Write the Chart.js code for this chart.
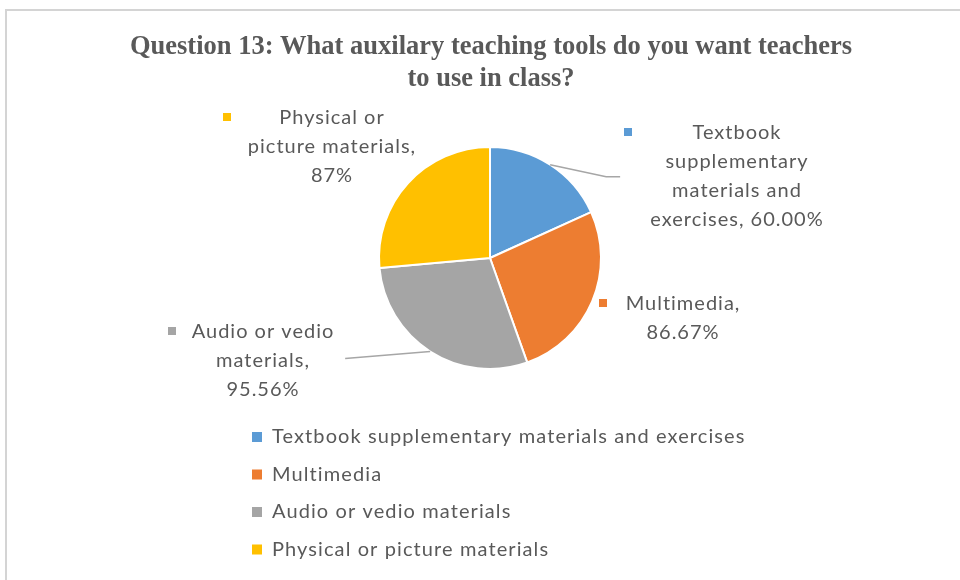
<!DOCTYPE html>
<html>
<head>
<meta charset="utf-8">
<style>
  html, body { margin: 0; padding: 0; background: #ffffff; }
  #wrap { width: 960px; height: 580px; position: relative; }
</style>
<script src="https://cdn.jsdelivr.net/npm/chart.js@4.4.1/dist/chart.umd.min.js"></script>
</head>
<body>
<div id="wrap"><canvas id="chart" width="960" height="580"></canvas></div>
<script>
// Survey answers for question 13 (share of respondents, %)
const categories = [
  'Textbook supplementary materials and exercises',
  'Multimedia',
  'Audio or vedio materials',
  'Physical or picture materials'
];
const values = [60.00, 86.67, 95.56, 87];
const valueLabels = ['60.00%', '86.67%', '95.56%', '87%'];
// Wrapped text of each data label (the value is appended on the last line)
const labelLines = [
  ['Textbook', 'supplementary', 'materials and', 'exercises, '],
  ['Multimedia,', ''],
  ['Audio or vedio', 'materials,', ''],
  ['Physical or', 'picture materials,', '']
];
const titleLines = ['Question 13: What auxilary teaching tools do you want teachers', 'to use in class?'];

const colors = ['#5B9BD5', '#ED7D31', '#A5A5A5', '#FFC000'];
const textColor = '#595959';
const labelFont = '20px Lato, "Open Sans", sans-serif';
const legendFont = '20px Lato, "Open Sans", sans-serif';

// Where each data label sits, relative to the pie centre (in px);
// keyDx is the colour key offset from the label's centre line
const labelPlacement = [
  { dx: 247, dy: -125, keyDx: -109, leader: true },
  { dx: 193, dy: 46,  keyDx: -80, leader: false },
  { dx: -227, dy: 74, keyDx: -91, leader: true },
  { dx: -158, dy: -140, keyDx: -105, leader: false }
];
const lineHeight = 29;

const decorations = {
  id: 'decorations',
  afterDraw(chart) {
    const ctx = chart.ctx;
    const arcs = chart.getDatasetMeta(0).data;
    const cx = arcs[0].x, cy = arcs[0].y, R = arcs[0].outerRadius;

    ctx.save();
    // outer frame of the chart area
    ctx.strokeStyle = '#d4d4d4';
    ctx.lineWidth = 2;
    ctx.beginPath();
    ctx.moveTo(6, 590);
    ctx.lineTo(6, 10);
    ctx.lineTo(970, 10);
    ctx.stroke();

    // title
    ctx.fillStyle = textColor;
    ctx.font = 'bold 26.5px "Liberation Serif", "Times New Roman", serif';
    ctx.textAlign = 'center';
    ctx.textBaseline = 'middle';
    titleLines.forEach((t, i) => ctx.fillText(t, 491, 47 + i * 32));

    // data labels with leader lines
    ctx.font = labelFont;
    ctx.letterSpacing = '1px';
    arcs.forEach((arc, i) => {
      const p = labelPlacement[i];
      const lines = labelLines[i].slice();
      lines[lines.length - 1] += valueLabels[i];
      const tx = cx + p.dx, ty = cy + p.dy;
      ctx.fillStyle = textColor;
      ctx.textAlign = 'center';
      lines.forEach((ln, k) => ctx.fillText(ln, tx, ty + k * lineHeight));
      // colour key in front of the first line
      ctx.fillStyle = arc.options.backgroundColor;
      ctx.fillRect(tx + p.keyDx - 4, ty - 5, 8, 8);

      if (p.leader) {
        const mid = (arc.startAngle + arc.endAngle) / 2;
        const sx = cx + Math.cos(mid) * R, sy = cy + Math.sin(mid) * R;
        ctx.strokeStyle = '#a6a6a6';
        ctx.lineWidth = 1.5;
        ctx.beginPath();
        ctx.moveTo(sx, sy);
        if (i === 0) {
          ctx.lineTo(sx + 56, sy + 12);
          ctx.lineTo(sx + 70, sy + 12);
        } else {
          ctx.lineTo(sx - 85, sy + 7);
        }
        ctx.stroke();
      }
    });

    // legend (one entry per row)
    ctx.font = legendFont;
    ctx.letterSpacing = '1.1px';
    ctx.textAlign = 'left';
    categories.forEach((c, i) => {
      const y = 437 + i * 37.5;
      ctx.fillStyle = colors[i];
      ctx.fillRect(252, y - 5, 10, 10);
      ctx.fillStyle = textColor;
      ctx.fillText(c, 272, y);
    });
    ctx.restore();
  }
};

new Chart(document.getElementById('chart'), {
  type: 'pie',
  data: {
    labels: categories,
    datasets: [{
      data: values,
      backgroundColor: colors,
      borderColor: '#ffffff',
      borderWidth: 2,
      hoverOffset: 0
    }]
  },
  options: {
    responsive: false,
    animation: false,
    devicePixelRatio: 1,
    layout: { padding: { left: 378, right: 358, top: 146, bottom: 210 } },
    plugins: {
      legend: { display: false },
      title: { display: false },
      tooltip: { enabled: false }
    }
  },
  plugins: [decorations]
});
</script>
</body>
</html>
